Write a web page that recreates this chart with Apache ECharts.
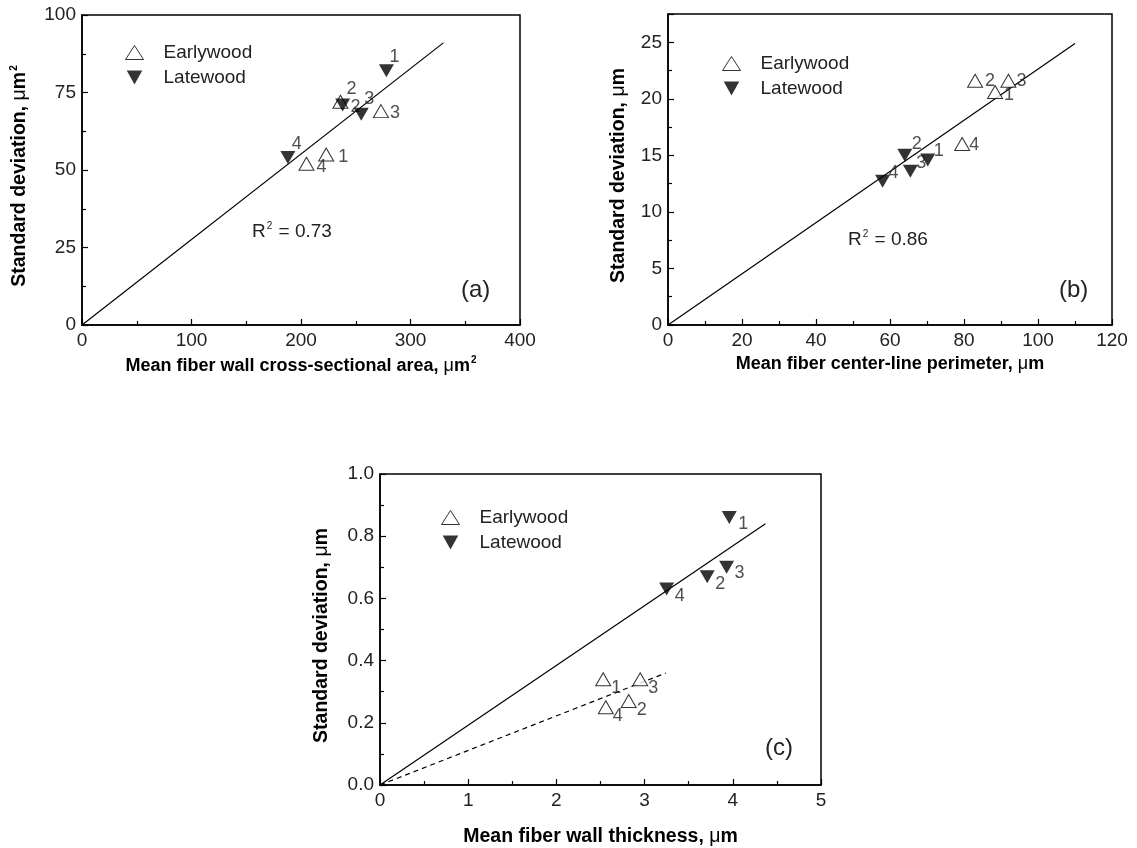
<!DOCTYPE html>
<html>
<head>
<meta charset="utf-8">
<script src="https://cdn.jsdelivr.net/npm/echarts@6/dist/echarts.min.js"></script>
<style>
html,body{margin:0;padding:0;background:#fff;}
#c{width:1137px;height:848px;}
</style>
</head>
<body>
<div id="c"></div>
<script>
// ---------------- data ----------------
const pointIds = ['1', '2', '3', '4'];
const seriesNames = ['Earlywood', 'Latewood'];

// panel (a)
const aEarlyX = [223, 236, 273, 205];
const aEarlyY = [55, 72, 69, 52];
const aLateX = [278, 238, 255, 188];
const aLateY = [82, 71, 68, 54];
const aFitX = [0, 330];
const aFitY = [0, 91];
const aXTicks = [0, 100, 200, 300, 400];
const aYTicks = [0, 25, 50, 75, 100];
const aR2 = '0.73';

// panel (b)
const bEarlyX = [88.4, 83, 92, 79.5];
const bEarlyY = [20.6, 21.6, 21.6, 16.0];
const bLateX = [70.2, 64, 65.5, 58];
const bLateY = [14.6, 15.0, 13.6, 12.7];
const bFitX = [0, 110];
const bFitY = [0, 24.9];
const bXTicks = [0, 20, 40, 60, 80, 100, 120];
const bYTicks = [0, 5, 10, 15, 20, 25];
const bYMax = 27.5;
const bR2 = '0.86';

// panel (c)
const cEarlyX = [2.53, 2.82, 2.95, 2.56];
const cEarlyY = [0.34, 0.27, 0.34, 0.25];
const cLateX = [3.96, 3.71, 3.93, 3.25];
const cLateY = [0.86, 0.67, 0.70, 0.63];
const cFitLateX = [0, 4.37];
const cFitLateY = [0, 0.84];
const cFitEarlyX = [0, 3.24];
const cFitEarlyY = [0, 0.36];
const cXTicks = [0, 1, 2, 3, 4, 5];
const cYTicks = [0, 0.2, 0.4, 0.6, 0.8, 1.0];

// ---------------- styling (label offsets in px) ----------------
const aEarlyOff = [[17, 3], [15, 5], [14, 2], [15, 3]];
const aLateOff = [[8, -14], [9, -16], [8, -15], [9, -14]];
const bEarlyOff = [[14, 3], [15, 0], [13, 0], [12, 1]];
const bLateOff = [[11, -9], [12, -11], [11, -8], [11, -8]];
const cEarlyOff = [[13, 9], [13, 9], [13, 9], [12, 9]];
const cLateOff = [[14, 6], [13, 7], [13, 6], [13, 7]];

const FF = "'Liberation Sans', Arial, sans-serif";
const downTri = 'path://M0,0L10,0L5,9Z';

function pts(xs, ys, offs) {
  return xs.map((x, i) => ({
    value: [x, ys[i]],
    name: pointIds[i],
    label: { offset: offs[i] }
  }));
}
function line(xs, ys) { return xs.map((x, i) => [x, ys[i]]); }

function nameStyle(size, pad) {
  return {
    fontFamily: FF, fontSize: size, fontWeight: 'bold', color: '#000',
    padding: pad || 0,
    rich: {
      b: { fontFamily: FF, fontSize: size, fontWeight: 'bold', color: '#000' },
      m: { fontFamily: FF, fontSize: size, fontWeight: 'normal', color: '#000' },
      s: { fontFamily: FF, fontSize: 10, fontWeight: 'bold', color: '#000', padding: [0, 0, 12, 1] }
    }
  };
}

function xAxis(grid, ticks, name, fmt, gap, size) {
  return {
    type: 'value', gridIndex: grid,
    min: ticks[0], max: ticks[ticks.length - 1],
    interval: ticks[1] - ticks[0],
    name: name, nameLocation: 'middle', nameGap: gap,
    nameTextStyle: nameStyle(size),
    axisLine: { show: true, onZero: false, lineStyle: { color: '#000', width: 1.5 } },
    axisTick: { show: true, inside: true, length: 6, lineStyle: { color: '#000', width: 1.2 } },
    minorTick: { show: true, splitNumber: 2, length: 4, lineStyle: { color: '#000', width: 1.2 } },
    splitLine: { show: false },
    axisLabel: { fontFamily: FF, fontSize: 19, color: '#222', margin: 6, formatter: fmt }
  };
}
function yAxis(grid, ticks, max, name, fmt, gap) {
  return {
    type: 'value', gridIndex: grid,
    min: ticks[0], max: max,
    interval: ticks[1] - ticks[0],
    name: name, nameLocation: 'middle', nameGap: gap,
    nameTextStyle: nameStyle(19.5, [0, 12, 0, 0]),
    axisLine: { show: true, onZero: false, lineStyle: { color: '#000', width: 1.5 } },
    axisTick: { show: true, inside: true, length: 6, lineStyle: { color: '#000', width: 1.2 } },
    minorTick: { show: true, splitNumber: 2, length: 4, lineStyle: { color: '#000', width: 1.2 } },
    splitLine: { show: false },
    axisLabel: {
      fontFamily: FF, fontSize: 19, color: '#222', margin: 6, formatter: fmt,
      showMaxLabel: max === ticks[ticks.length - 1]
    }
  };
}

const labelStyle = {
  show: true, position: 'inside', formatter: p => p.name,
  fontFamily: FF, fontSize: 18, color: '#222'
};
function earlySeries(i, data) {
  return {
    name: seriesNames[0], type: 'scatter', xAxisIndex: i, yAxisIndex: i,
    symbol: 'triangle', symbolSize: [15, 13],
    itemStyle: { color: '#fff', borderColor: '#000', borderWidth: 1 },
    label: labelStyle, data: data, z: 3
  };
}
function lateSeries(i, data) {
  return {
    name: seriesNames[1], type: 'scatter', xAxisIndex: i, yAxisIndex: i,
    symbol: downTri, symbolSize: [15, 13],
    itemStyle: { color: '#000' },
    label: labelStyle, data: data, z: 4
  };
}
function fitSeries(i, data, dashed) {
  return {
    type: 'line', xAxisIndex: i, yAxisIndex: i, data: data,
    symbol: 'none', silent: true,
    lineStyle: { color: '#000', width: 1.2, type: dashed ? [5, 4] : 'solid' }, z: 2
  };
}
function legend(left, top) {
  return {
    orient: 'vertical', left: left, top: top, itemGap: 6,
    itemWidth: 18, itemHeight: 14, selectedMode: false,
    textStyle: { fontFamily: FF, fontSize: 19, color: '#222', padding: [0, 0, 0, 15] },
    data: [
      { name: seriesNames[0], icon: 'triangle', itemStyle: { color: '#fff', borderColor: '#000', borderWidth: 1 } },
      { name: seriesNames[1], icon: downTri, itemStyle: { color: '#000' } }
    ]
  };
}
function r2Text(left, top, val) {
  return {
    type: 'text', left: left, top: top,
    style: {
      text: '{n|R}{s|2}{n| = ' + val + '}',
      rich: {
        n: { fontFamily: FF, fontSize: 19, fill: '#222' },
        s: { fontFamily: FF, fontSize: 10, fill: '#222', padding: [0, 1, 12, 1] }
      }
    }
  };
}
function panelTag(left, top, t) {
  return { type: 'text', left: left, top: top, style: { text: t, font: "24px 'Liberation Sans', Arial", fill: '#222' } };
}

const gridStyle = { show: true, borderColor: '#000', borderWidth: 1.5, backgroundColor: 'transparent' };

const option = {
  animation: false,
  backgroundColor: '#fff',
  grid: [
    Object.assign({ left: 82, top: 15, width: 438, height: 310 }, gridStyle),
    Object.assign({ left: 668, top: 14, width: 444, height: 311 }, gridStyle),
    Object.assign({ left: 380, top: 474, width: 441, height: 311 }, gridStyle)
  ],
  xAxis: [
    xAxis(0, aXTicks, '{b|Mean fiber wall cross-sectional area, }{m|μ}{b|m}{s|2}', null, 30, 18),
    xAxis(1, bXTicks, '{b|Mean fiber center-line perimeter, }{m|μ}{b|m}', null, 30, 18),
    xAxis(2, cXTicks, '{b|Mean fiber wall thickness, }{m|μ}{b|m}', v => String(v), 42, 19.5)
  ],
  yAxis: [
    yAxis(0, aYTicks, aYTicks[aYTicks.length - 1], '{b|Standard deviation, }{m|μ}{b|m}{s|2}', null, 51),
    yAxis(1, bYTicks, bYMax, '{b|Standard deviation, }{m|μ}{b|m}', null, 39),
    yAxis(2, cYTicks, cYTicks[cYTicks.length - 1], '{b|Standard deviation, }{m|μ}{b|m}', v => v.toFixed(1), 48)
  ],
  legend: [legend(120, 38), legend(717, 49), legend(436, 503)],
  series: [
    fitSeries(0, line(aFitX, aFitY), false),
    earlySeries(0, pts(aEarlyX, aEarlyY, aEarlyOff)),
    lateSeries(0, pts(aLateX, aLateY, aLateOff)),
    fitSeries(1, line(bFitX, bFitY), false),
    earlySeries(1, pts(bEarlyX, bEarlyY, bEarlyOff)),
    lateSeries(1, pts(bLateX, bLateY, bLateOff)),
    fitSeries(2, line(cFitLateX, cFitLateY), false),
    fitSeries(2, line(cFitEarlyX, cFitEarlyY), true),
    earlySeries(2, pts(cEarlyX, cEarlyY, cEarlyOff)),
    lateSeries(2, pts(cLateX, cLateY, cLateOff))
  ],
  graphic: [
    r2Text(252, 221, aR2),
    r2Text(848, 229, bR2),
    panelTag(461, 278, '(a)'),
    panelTag(1059, 278, '(b)'),
    panelTag(765, 736, '(c)')
  ]
};

const chart = echarts.init(document.getElementById('c'), null, { renderer: 'canvas' });
chart.setOption(option);
</script>
</body>
</html>
